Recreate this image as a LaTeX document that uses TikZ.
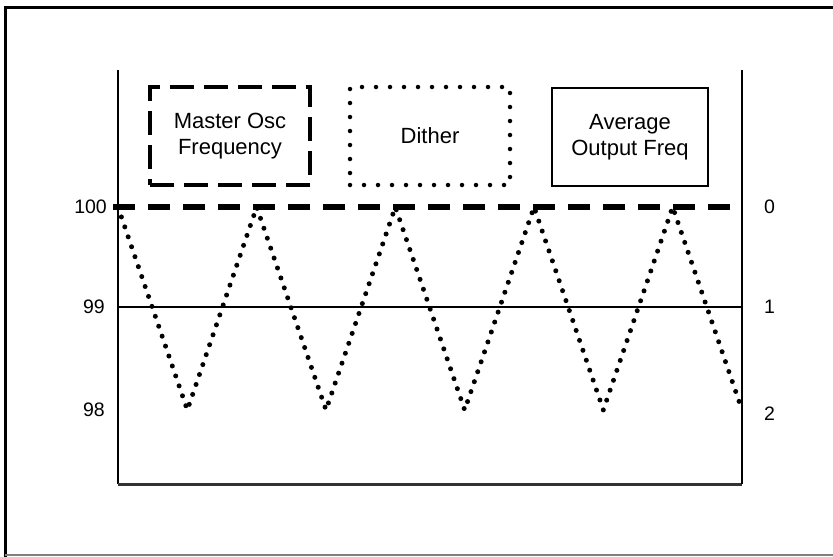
\documentclass[tikz,border=0pt]{standalone}
\usepackage{fontspec}
\setmainfont{Liberation Sans}
\begin{document}
\begin{tikzpicture}[x=1pt,y=-1pt,
  boxtext/.style={align=center,font=\fontsize{22}{26}\selectfont,inner sep=0pt,minimum width=#1,minimum height=98pt},
  ticklabel/.style={font=\fontsize{19.5}{23}\selectfont,inner sep=0pt},
  axisline/.style={line width=2pt},
  masterline/.style={line width=5.5pt,dash pattern=on 22pt off 13pt},
  dithline/.style={line width=5pt,line cap=round,dash pattern=on 0pt off 10.5pt}]
\useasboundingbox (0,0) rectangle (833,557);
% outer frame
\draw[line width=3pt] (5,557) -- (5,7) -- (840,7);
\draw[line width=1.2pt,gray] (5,555) -- (833,555);
% plot frame
\coordinate (tl) at (118,70);
\coordinate (bl) at (118,484);
\coordinate (br) at (742,484);
\coordinate (tr) at (742,70);
\draw[axisline] (tl) -- (bl);
\draw[line width=3pt,black!80] (bl) -- (br);
\draw[axisline] (br) -- (tr);
% levels
\coordinate (l100a) at (113,207);
\coordinate (l100b) at (742,207);
\coordinate (l99a) at (118,307);
\coordinate (l99b) at (742,307);
\draw[line width=2pt] (l99a) -- (l99b);
% dither triangle wave
\draw[dithline] (118,207)
  \foreach \k in {1,...,9} { -- ({118+624*\k/9},{ifthenelse(mod(\k,2)==1,410,207)}) };
\draw[masterline] (l100a) -- (l100b);
% labels
\node[ticklabel,anchor=east] (n100) at (107,207) {100};
\node[ticklabel,anchor=east] (n99) at (105,307) {99};
\node[ticklabel,anchor=east] (n98) at (105,410) {98};
\node[ticklabel,anchor=west] (n0) at (764,207) {0};
\node[ticklabel,anchor=west] (n1) at (764,307) {1};
\node[ticklabel,anchor=west] (n2) at (764,414) {2};
% legend boxes
\node[boxtext=160pt,draw,line width=4pt,dash pattern=on 24pt off 10pt] (master) at (230,136) {Master Osc\\Frequency};
\node[boxtext=160pt,draw,line width=4.5pt,line cap=round,dash pattern=on 0pt off 14pt] (dither) at (430,136) {Dither};
\node[boxtext=156pt,draw,line width=2pt] (avg) at (630,137) {Average\\Output Freq};
\end{tikzpicture}
\end{document}
